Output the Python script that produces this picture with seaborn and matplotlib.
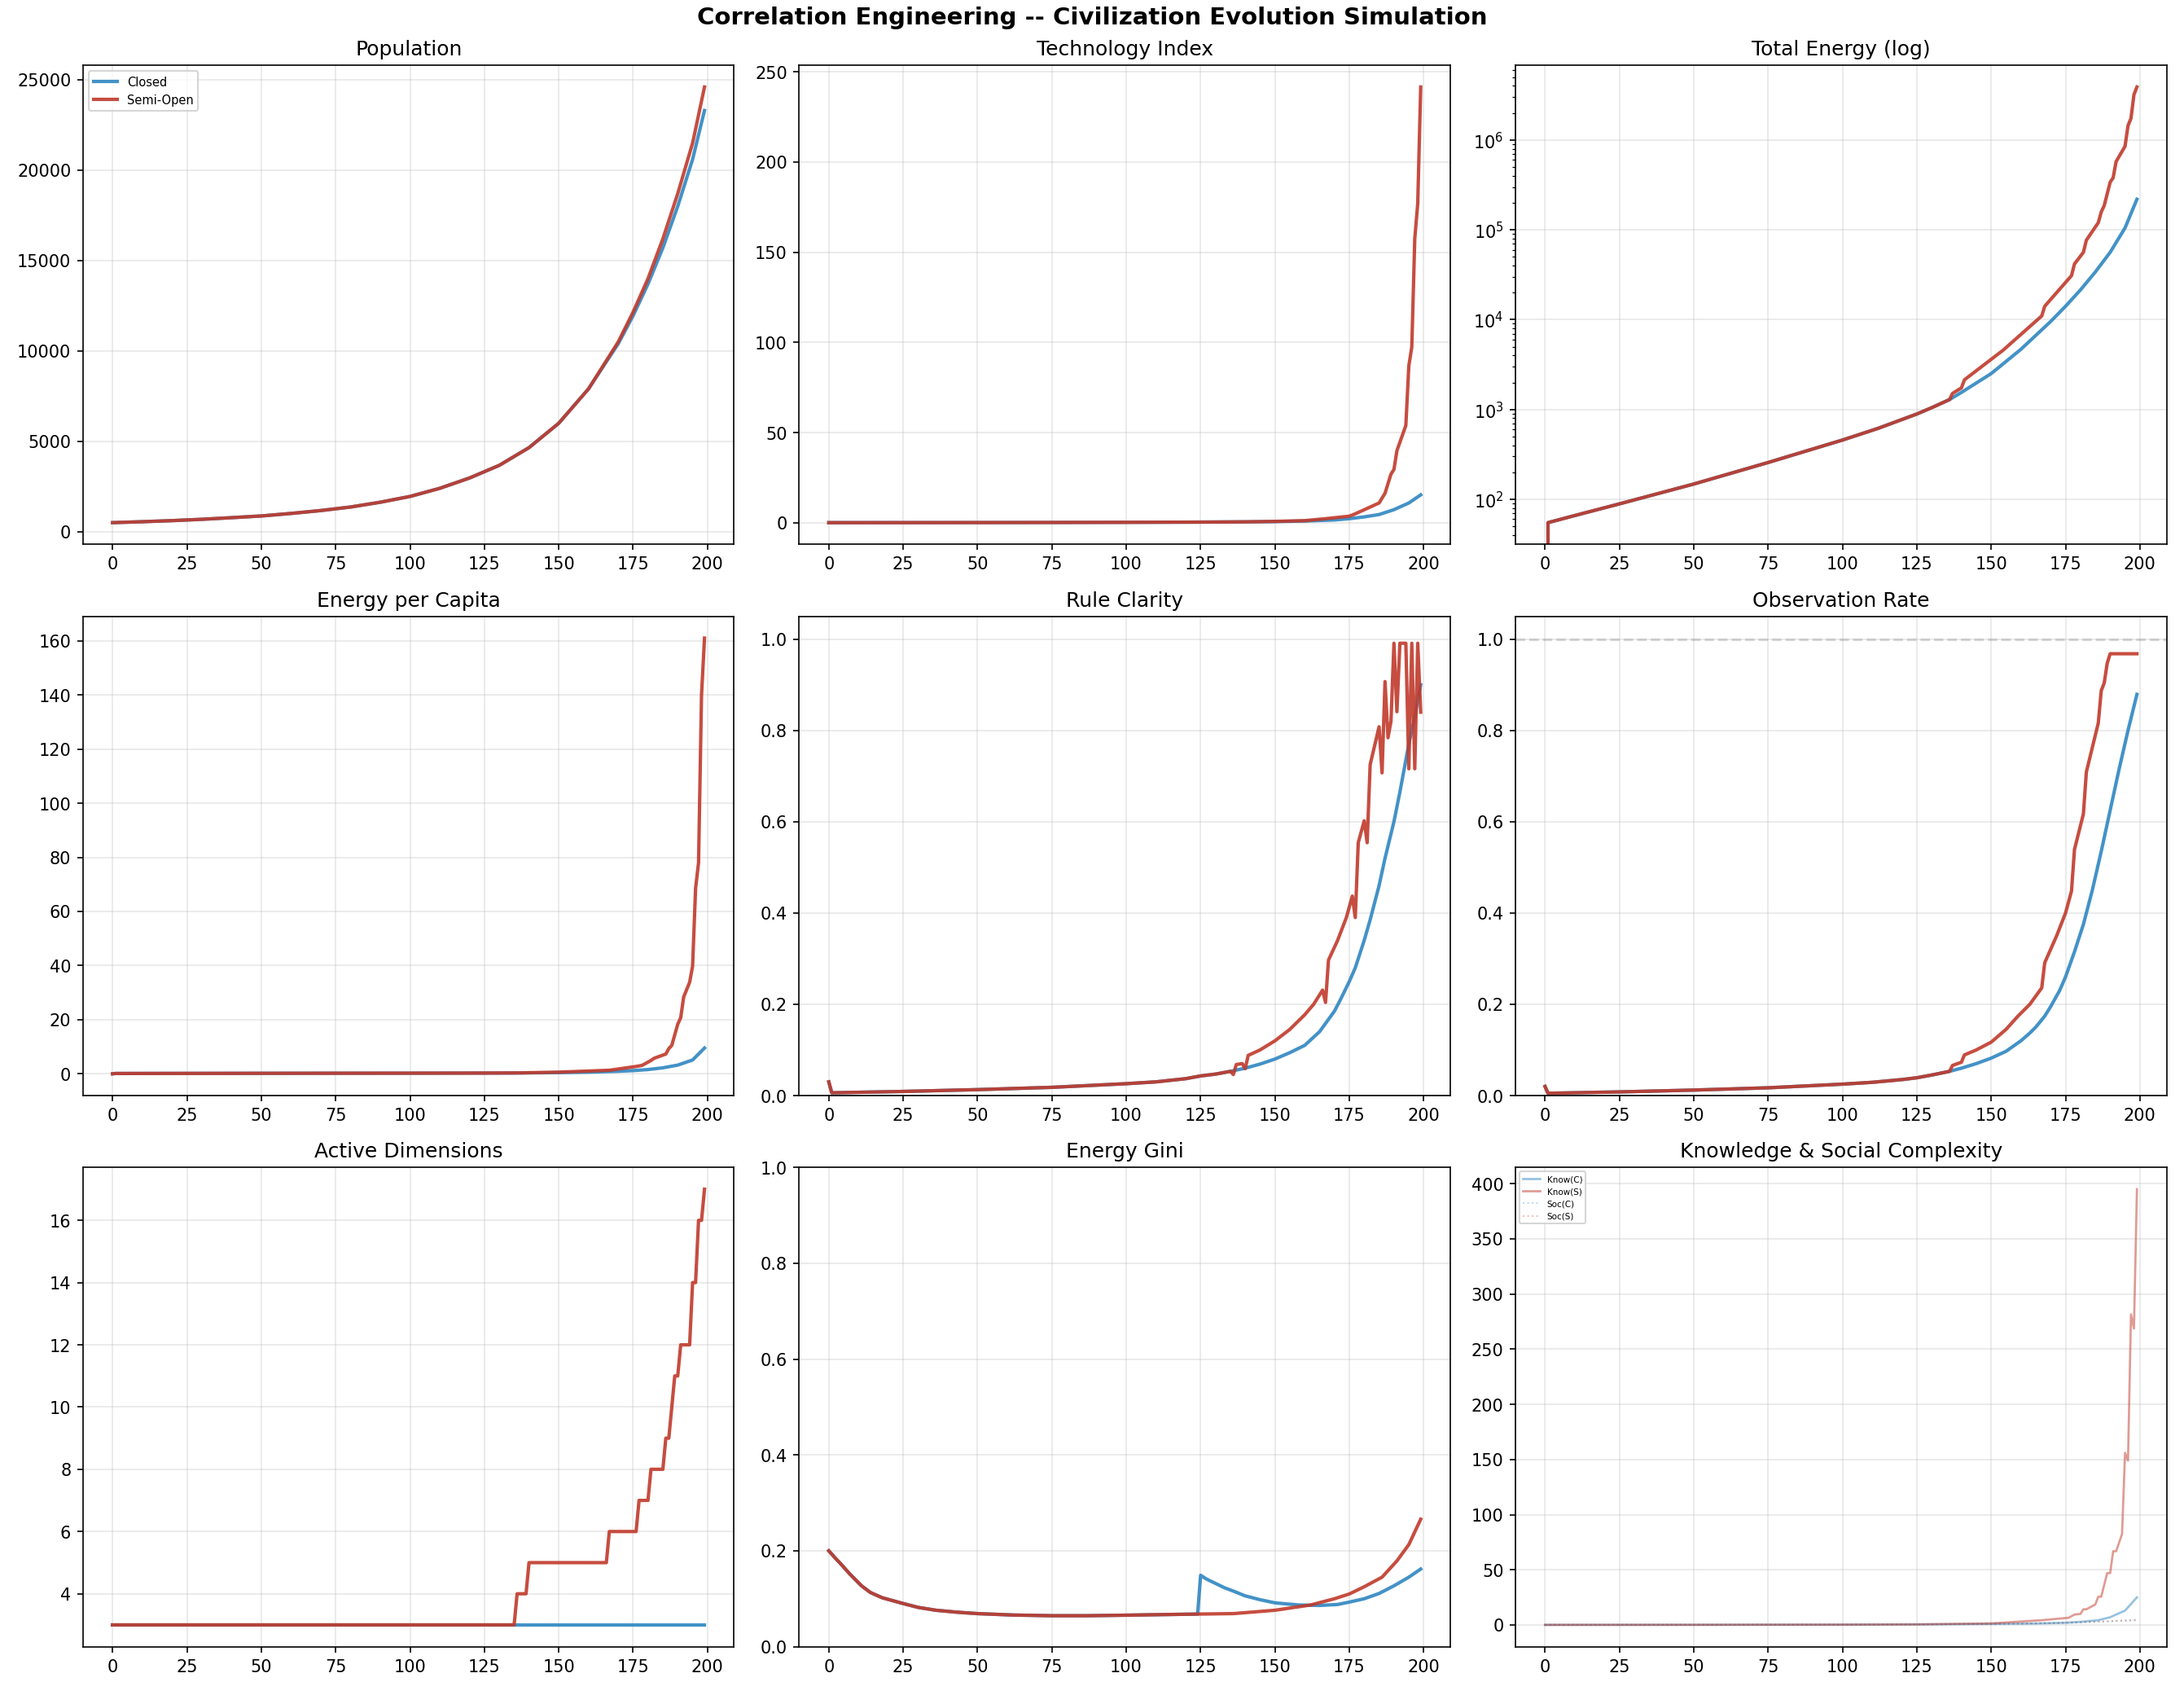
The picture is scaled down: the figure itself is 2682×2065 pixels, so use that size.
import numpy as np
import pandas as pd
import seaborn as sns
import matplotlib
matplotlib.use("Agg")
import matplotlib.pyplot as plt

# colours for the two scenarios
C_CLOSED = "#2E86C1"
C_SEMI = "#C0392B"

# population
pop_steps = [0, 10, 20, 30, 40, 50, 60, 70, 80, 90, 100, 110, 120, 130, 140, 150, 160, 170, 175, 180, 185,
             190, 195, 199]
pop_closed = [500, 552, 612, 685, 775, 870, 1010, 1170, 1365, 1630, 1950, 2400, 2970, 3670, 4650, 6000,
              7900, 10400, 11950, 13700, 15700, 18000, 20600, 23300]
pop_semi = [500, 552, 612, 685, 775, 870, 1010, 1170, 1365, 1630, 1950, 2400, 2970, 3670, 4650, 6000,
            7900, 10500, 12150, 14000, 16200, 18700, 21500, 24600]

# technology index
tech_closed_steps = [0, 25, 50, 75, 100, 125, 140, 150, 160, 170, 175, 180, 185, 190, 195, 199]
tech_closed = [0.1, 0.12, 0.15, 0.2, 0.28, 0.4, 0.55, 0.7, 1.0, 1.6, 2.3, 3.3, 4.6, 7.3, 11.0, 15.5]
tech_semi_steps = [0, 25, 50, 75, 100, 125, 140, 150, 160, 167, 175, 177, 181, 185, 187, 189, 190, 191,
                   194, 195, 196, 197, 198, 199]
tech_semi = [0.1, 0.12, 0.15, 0.2, 0.28, 0.4, 0.55, 0.8, 1.2, 2.3, 3.7, 5.0, 8.0, 11.0, 16.4, 27.0, 29.6,
             40.0, 54.0, 87.0, 97.5, 157.5, 177.0, 241.6]

# total energy (shared start, then two tails)
energy_base_steps = [0, 1, 10, 25, 50, 75, 100, 112, 125, 130, 136]
energy_base = [0, 55, 66, 89, 148, 257, 457, 617, 891, 1047, 1290]
energy_closed_steps = [140, 150, 160, 170, 175, 180, 185, 190, 195, 199]
energy_closed = [1550, 2510, 4680, 9550, 14100, 21400, 33900, 56200, 105000, 219000]
energy_semi_steps = [137, 140, 141, 154, 167, 168, 177, 178, 181, 182, 186, 187, 188, 190, 191, 192, 195,
                     196, 197, 198, 199]
energy_semi = [1510, 1740, 2140, 4570, 11000, 14100, 30900, 41700, 56200, 76700, 120000, 158000, 186000,
               339000, 380000, 575000, 851000, 1445000, 1740000, 3200000, 3890000]

# energy per capita
epc_base_steps = [0, 1, 25, 50, 75, 100, 125, 136]
epc_base = [0, 0.11, 0.14, 0.17, 0.2, 0.22, 0.26, 0.3]
epc_closed_steps = [150, 160, 170, 175, 180, 185, 190, 195, 199]
epc_closed = [0.42, 0.59, 0.92, 1.18, 1.56, 2.2, 3.2, 5.1, 9.5]
epc_semi_steps = [150, 167, 176, 178, 181, 182, 186, 187, 188, 190, 191, 192, 194, 195, 196, 197, 198, 199]
epc_semi = [0.6, 1.3, 2.7, 3.1, 4.9, 5.7, 7.3, 9.3, 10.5, 18.3, 20.7, 28.4, 33.8, 39.8, 68.5, 78.0,
            140.0, 161.0]

# rule clarity
rule_base_steps = [0, 1, 25, 50, 75, 100, 110, 120, 125, 130, 135]
rule_base = [0.03, 0.006, 0.009, 0.013, 0.018, 0.026, 0.03, 0.037, 0.043, 0.047, 0.053]
rule_closed_steps = [140, 145, 150, 155, 160, 165, 170, 172, 175, 177, 180, 182, 185, 187, 190, 192, 195,
                     197, 199]
rule_closed = [0.06, 0.069, 0.08, 0.094, 0.11, 0.14, 0.185, 0.21, 0.25, 0.28, 0.34, 0.385, 0.46, 0.52,
               0.6, 0.665, 0.77, 0.83, 0.9]
rule_semi_steps = [136, 137, 139, 140, 141, 145, 150, 155, 160, 163, 166, 167, 168, 171, 174, 176, 177,
                   178, 180, 181, 182, 185, 186, 187, 188, 189, 190, 191, 192, 194, 195, 196, 197, 198, 199]
rule_semi = [0.046, 0.068, 0.07, 0.059, 0.088, 0.1, 0.12, 0.145, 0.177, 0.2, 0.231, 0.204, 0.297, 0.339,
             0.39, 0.437, 0.39, 0.554, 0.602, 0.554, 0.725, 0.808, 0.707, 0.907, 0.784, 0.82, 0.991, 0.841,
             0.991, 0.991, 0.716, 0.991, 0.716, 0.991, 0.84]

# observation rate
obs_base_steps = [0, 1, 25, 50, 75, 100, 110, 120, 125, 130, 136]
obs_base = [0.02, 0.005, 0.008, 0.012, 0.017, 0.025, 0.029, 0.035, 0.039, 0.045, 0.053]
obs_closed_steps = [140, 145, 150, 155, 160, 163, 165, 168, 170, 173, 175, 178, 181, 184, 187, 190, 193,
                    196, 199]
obs_closed = [0.06, 0.07, 0.082, 0.097, 0.12, 0.137, 0.15, 0.174, 0.195, 0.23, 0.26, 0.315, 0.375, 0.45,
              0.535, 0.625, 0.715, 0.8, 0.879]
obs_semi_steps = [137, 140, 141, 145, 150, 155, 159, 163, 167, 168, 172, 175, 177, 178, 181, 182, 186, 187,
                  188, 189, 190, 199]
obs_semi = [0.066, 0.073, 0.089, 0.1, 0.117, 0.145, 0.174, 0.2, 0.236, 0.291, 0.35, 0.4, 0.448, 0.539,
            0.617, 0.709, 0.816, 0.887, 0.904, 0.947, 0.968, 0.968]

# active dimensions
dims_closed_steps = [0, 199]
dims_closed = [3, 3]
dims_semi_steps = [0, 135, 136, 139, 140, 166, 167, 176, 177, 180, 181, 185, 186, 187, 188, 189, 190, 191,
                   194, 195, 196, 197, 198, 199]
dims_semi = [3, 3, 4, 4, 5, 5, 6, 6, 7, 7, 8, 8, 9, 9, 10, 11, 11, 12, 12, 14, 14, 16, 16, 17]

# energy gini
gini_base_steps = [0, 2, 4, 7, 11, 14, 18, 25, 30, 36, 43, 50, 62, 75, 87, 100, 112, 124]
gini_base = [0.2, 0.186, 0.173, 0.152, 0.127, 0.113, 0.102, 0.09, 0.082, 0.076, 0.072, 0.069, 0.066,
             0.0646, 0.0646, 0.0657, 0.0669, 0.068]
gini_closed_steps = [125, 127, 130, 133, 136, 140, 145, 150, 158, 165, 171, 175, 180, 185, 190, 195, 199]
gini_closed = [0.149, 0.141, 0.132, 0.123, 0.116, 0.106, 0.098, 0.0914, 0.087, 0.086, 0.088, 0.093, 0.1,
               0.111, 0.127, 0.145, 0.162]
gini_semi_steps = [136, 150, 162, 170, 175, 180, 186, 191, 195, 199]
gini_semi = [0.069, 0.076, 0.087, 0.1, 0.11, 0.125, 0.145, 0.179, 0.213, 0.266]

# knowledge & social complexity
know_c_steps = [0, 50, 100, 125, 150, 165, 175, 180, 186, 190, 195, 199]
know_c = [0.05, 0.1, 0.25, 0.5, 0.9, 1.3, 2.0, 2.8, 4.3, 7.0, 13.0, 25.0]
know_s_steps = [0, 50, 100, 125, 150, 167, 176, 178, 180, 181, 182, 185, 186, 187, 189, 190, 191, 192, 194,
                195, 196, 197, 198, 199]
know_s = [0.05, 0.1, 0.25, 0.5, 1.4, 4.3, 6.5, 9.4, 10.0, 14.2, 14.2, 18.5, 25.6, 25.6, 47.0, 47.0, 66.8,
          66.8, 82.4, 156.0, 149.0, 281.5, 268.7, 395.0]
soc_steps = [0, 100, 150, 170, 180, 190, 199]
soc_c = [0.1, 0.3, 0.8, 1.5, 2.2, 3.2, 4.3]
soc_s = [0.1, 0.3, 0.9, 1.7, 2.5, 3.5, 4.6]

fig, axes = plt.subplots(3, 3, figsize=(17.88, 13.77), dpi=150)
fig.suptitle("Correlation Engineering -- Civilization Evolution Simulation", fontsize=14,
             fontweight="bold", y=0.996)


def pair(ax, xc, yc, xs, ys, title, legend=False):
    sns.lineplot(x=xc, y=yc, ax=ax, color=C_CLOSED, lw=2, alpha=0.9, label="Closed" if legend else None)
    sns.lineplot(x=xs, y=ys, ax=ax, color=C_SEMI, lw=2, alpha=0.9, label="Semi-Open" if legend else None)
    ax.set_title(title, fontsize=12)
    ax.grid(True, alpha=0.3)
    ax.set_xlabel("")
    ax.set_ylabel("")
    if legend:
        ax.legend(loc="upper left", fontsize=7)
    elif ax.get_legend() is not None:
        ax.get_legend().remove()


pair(axes[0, 0], pop_steps, pop_closed, pop_steps, pop_semi, "Population", legend=True)
pair(axes[0, 1], tech_closed_steps, tech_closed, tech_semi_steps, tech_semi, "Technology Index")
pair(axes[0, 2], energy_base_steps + energy_closed_steps, energy_base + energy_closed,
     energy_base_steps + energy_semi_steps, energy_base + energy_semi, "Total Energy (log)")
axes[0, 2].set_yscale("log")

pair(axes[1, 0], epc_base_steps + epc_closed_steps, epc_base + epc_closed,
     epc_base_steps + epc_semi_steps, epc_base + epc_semi, "Energy per Capita")
pair(axes[1, 1], rule_base_steps + rule_closed_steps, rule_base + rule_closed,
     rule_base_steps + rule_semi_steps, rule_base + rule_semi, "Rule Clarity")
axes[1, 1].set_ylim(0, 1.05)
pair(axes[1, 2], obs_base_steps + obs_closed_steps, obs_base + obs_closed,
     obs_base_steps + obs_semi_steps, obs_base + obs_semi, "Observation Rate")
axes[1, 2].axhline(1.0, color="gray", ls="--", alpha=0.3, lw=1.5)
axes[1, 2].set_ylim(0, 1.05)

pair(axes[2, 0], dims_closed_steps, dims_closed, dims_semi_steps, dims_semi, "Active Dimensions")
pair(axes[2, 1], gini_base_steps + gini_closed_steps, gini_base + gini_closed,
     gini_base_steps + gini_semi_steps, gini_base + gini_semi, "Energy Gini")
axes[2, 1].set_ylim(0, 1)

# knowledge & social complexity panel
ax = axes[2, 2]
sns.lineplot(x=know_c_steps, y=know_c, ax=ax, color=C_CLOSED, lw=1.3, alpha=0.5, label="Know(C)")
sns.lineplot(x=know_s_steps, y=know_s, ax=ax, color=C_SEMI, lw=1.3, alpha=0.5, label="Know(S)")
sns.lineplot(x=soc_steps, y=soc_c, ax=ax, color=C_CLOSED, lw=1, ls=":", alpha=0.3, label="Soc(C)")
sns.lineplot(x=soc_steps, y=soc_s, ax=ax, color=C_SEMI, lw=1, ls=":", alpha=0.3, label="Soc(S)")
ax.set_title("Knowledge & Social Complexity", fontsize=12)
ax.grid(True, alpha=0.3)
ax.legend(loc="upper left", fontsize=5)

for a in axes.flat:
    a.set_xticks([0, 25, 50, 75, 100, 125, 150, 175, 200])

fig.subplots_adjust(left=0.038, right=0.992, bottom=0.021, top=0.961, wspace=0.10, hspace=0.15)
fig.savefig("out.png", dpi=150)
